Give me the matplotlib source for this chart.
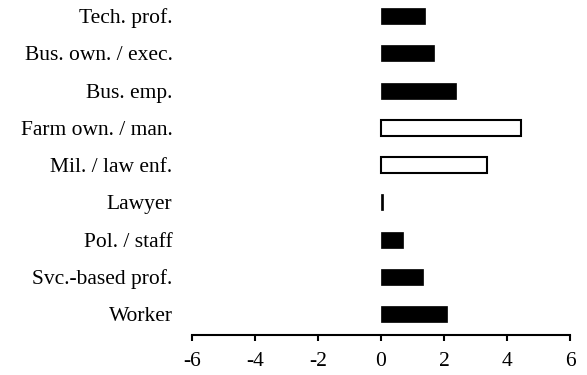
import matplotlib.pyplot as plt

# occupation categories, top to bottom
categories = ["Tech. prof.", "Bus. own. / exec.", "Bus. emp.", "Farm own. / man.",
              "Mil. / law enf.", "Lawyer", "Pol. / staff", "Svc.-based prof.", "Worker"]
values = [1.41, 1.68, 2.39, 4.43, 3.37, 0.06, 0.71, 1.33, 2.11]
hollow = [False, False, False, True, True, False, False, False, False]

plt.rcParams["font.family"] = ["Liberation Serif", "DejaVu Serif"]

fig = plt.figure(figsize=(5.87, 3.75), dpi=100)
ax = fig.add_axes([0.327, 0.107, 0.644, 0.893])

n = len(categories)
ypos = [n - 1 - i for i in range(n)]
for y, v, h in zip(ypos, values, hollow):
    if h:
        ax.barh(y, v, height=0.43, color="white", edgecolor="black", linewidth=1.5)
    else:
        ax.barh(y, v, height=0.43, color="black", edgecolor="black", linewidth=0.5)

ax.set_xlim(-6, 6)
ax.set_ylim(-0.56, 8.43)
ax.set_xticks([-6, -4, -2, 0, 2, 4, 6])
ax.set_xticklabels(["-6", "-4", "-2", "0", "2", "4", "6"], fontsize=15.5)
ax.set_yticks(ypos)
ax.set_yticklabels(categories, fontsize=15.5)
ax.tick_params(axis="y", length=0, pad=14)
ax.tick_params(axis="x", direction="out", length=4, width=1.5, pad=8)

for s in ["top", "right", "left"]:
    ax.spines[s].set_visible(False)
ax.spines["bottom"].set_linewidth(1.5)

fig.savefig("out.png", dpi=100)
